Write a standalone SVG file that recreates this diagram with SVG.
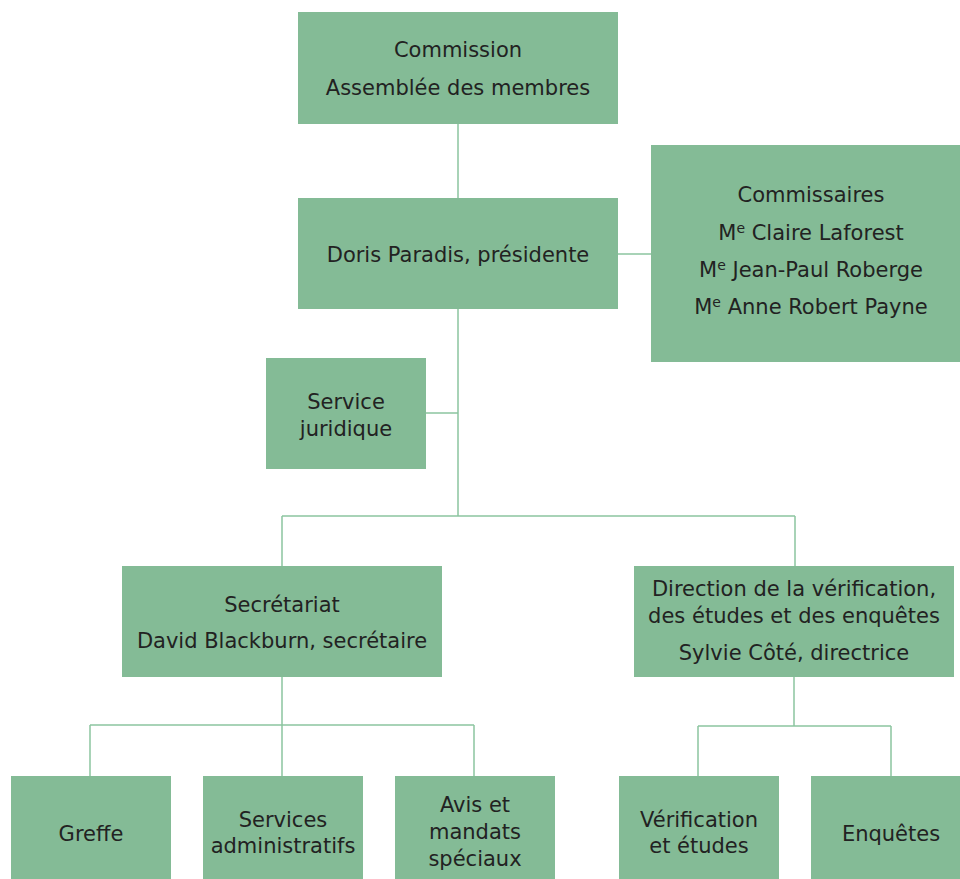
<svg xmlns="http://www.w3.org/2000/svg" width="960" height="879" viewBox="0 0 960 879">
<style>
.box{fill:#84BB96}
.t{font-family:"DejaVu Sans",sans-serif;font-size:21px;fill:#222;text-anchor:middle}
.c{stroke:#8CC5A0;stroke-width:1.5;fill:none}
</style>
<rect width="960" height="879" fill="#fff"/>
<g id="connectors">
<path class="c" d="M458 124V198M618 254H651M458 309V516M426 413H458M282 516H795M282 516V566M795 516V566M282 677V725M90 725H474M90 725V776M282 725V776M474 725V776M794 677V726M698 726H891M698 726V776M891 726V776"/>
</g>
<g id="commission"><rect class="box" x="298" y="12" width="320" height="112"/><text class="t" x="458" y="57">Commission</text><text class="t" x="458" y="95">Assemblée des membres</text></g>
<g id="presidente"><rect class="box" x="298" y="198" width="320" height="111"/><text class="t" x="458" y="262">Doris Paradis, présidente</text></g>
<g id="commissaires"><rect class="box" x="651" y="145" width="320" height="217"/>
<text class="t" x="811" y="202">Commissaires</text>
<text class="t" x="811" y="240">M<tspan font-size="14" dy="-7">e</tspan><tspan dy="7"> Claire Laforest</tspan></text>
<text class="t" x="811" y="277">M<tspan font-size="14" dy="-7">e</tspan><tspan dy="7"> Jean-Paul Roberge</tspan></text>
<text class="t" x="811" y="314">M<tspan font-size="14" dy="-7">e</tspan><tspan dy="7"> Anne Robert Payne</tspan></text>
</g>
<g id="juridique"><rect class="box" x="266" y="358" width="160" height="111"/><text class="t" x="346" y="409">Service</text><text class="t" x="346" y="436">juridique</text></g>
<g id="secretariat"><rect class="box" x="122" y="566" width="320" height="111"/><text class="t" x="282" y="612">Secrétariat</text><text class="t" x="282" y="648">David Blackburn, secrétaire</text></g>
<g id="direction"><rect class="box" x="634" y="566" width="320" height="111"/><text class="t" x="794" y="596">Direction de la vérification,</text><text class="t" x="794" y="623">des études et des enquêtes</text><text class="t" x="794" y="660">Sylvie Côté, directrice</text></g>
<g id="greffe"><rect class="box" x="11" y="776" width="160" height="110"/><text class="t" x="91" y="841">Greffe</text></g>
<g id="services"><rect class="box" x="203" y="776" width="160" height="110"/><text class="t" x="283" y="827">Services</text><text class="t" x="283" y="853">administratifs</text></g>
<g id="avis"><rect class="box" x="395" y="776" width="160" height="110"/><text class="t" x="475" y="812">Avis et</text><text class="t" x="475" y="839">mandats</text><text class="t" x="475" y="866">spéciaux</text></g>
<g id="verification"><rect class="box" x="619" y="776" width="160" height="110"/><text class="t" x="699" y="827">Vérification</text><text class="t" x="699" y="853">et études</text></g>
<g id="enquetes"><rect class="box" x="811" y="776" width="160" height="110"/><text class="t" x="891" y="841">Enquêtes</text></g>
</svg>
